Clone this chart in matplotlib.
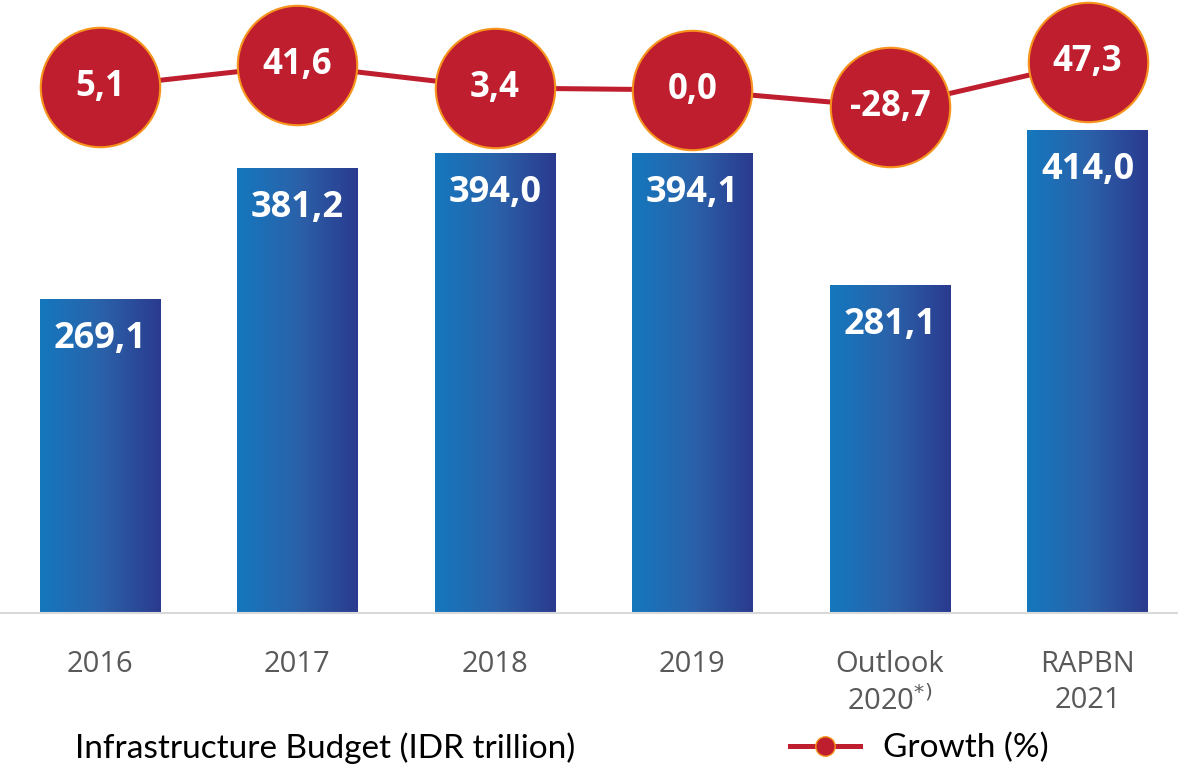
import numpy as np
import matplotlib.pyplot as plt
from matplotlib.colors import LinearSegmentedColormap
from matplotlib.lines import Line2D

# data
categories = ['2016', '2017', '2018', '2019', 'Outlook\n2020$^{*)}$', 'RAPBN\n2021']
budget = [269.1, 381.2, 394.0, 394.1, 281.1, 414.0]
growth = [5.1, 41.6, 3.4, 0.0, -28.7, 47.3]

def fmt(v):
    return f"{v:.1f}".replace('.', ',')

red = '#be1e2d'
orange = '#f7941d'
grad = LinearSegmentedColormap.from_list('bars', ['#1478be', '#2a62aa', '#2b3a8f'])

fig = plt.figure(figsize=(11.78, 7.7), dpi=100)
ax = fig.add_axes([0, 157 / 770, 1, 613 / 770])
x = np.arange(len(categories))

#bars with a left-to-right gradient
bars = ax.bar(x, budget, width=0.61, color='none', edgecolor='none', zorder=2)
gradient = np.linspace(0, 1, 256).reshape(1, -1)
for b in bars:
    x0, y0 = b.get_x(), b.get_y()
    w, h = b.get_width(), b.get_height()
    im = ax.imshow(gradient, cmap=grad, aspect='auto', extent=[x0, x0 + w, y0, y0 + h], zorder=2)
    im.set_clip_path(b)

for xi, v in zip(x, budget):
    ax.annotate(fmt(v), (xi, v), xytext=(0, -29), textcoords='offset points',
                ha='center', va='center', color='white', fontsize=26,
                fontweight='bold', family='Open Sans', zorder=3)

ax.set_xlim(-0.506, 5.458)
ax.set_ylim(0, 525.3)
ax.set_xticks(x)
ax.set_xticklabels(categories, fontsize=21, color='#595959', family='Open Sans', linespacing=1.3)
ax.tick_params(axis='x', length=0, pad=27)
ax.set_yticks([])
for s in ['top', 'left', 'right']:
    ax.spines[s].set_visible(False)
ax.spines['bottom'].set_color('#d9d9d9')
ax.spines['bottom'].set_linewidth(1.5)

#growth line on a second axis
ax2 = ax.twinx()
ax2.set_ylim(-871.7, 150)
ax2.set_axis_off()
ax2.plot(x, growth, color=red, lw=3.6, marker='o', markersize=86,
         markerfacecolor=red, markeredgecolor=orange, markeredgewidth=1.5, zorder=4)
for xi, g in zip(x, growth):
    ax2.text(xi, g, fmt(g), ha='center', va='center', color='white', fontsize=25,
             fontweight='bold', family='Open Sans', zorder=5)

fig.text(75 / 1178, 22 / 770, 'Infrastructure Budget (IDR trillion)', fontsize=24,
         family='Lato', va='center', ha='left')

handle = Line2D([], [], color=red, lw=3.6, marker='o', markersize=14,
                markerfacecolor=red, markeredgecolor=orange, markeredgewidth=1)
fig.legend([handle], ['Growth (%)'], loc='center left', bbox_to_anchor=(790 / 1178, 22 / 770),
           frameon=False, borderpad=0, borderaxespad=0, handlelength=2.1, handletextpad=0.7,
           prop={'family': 'Lato', 'size': 24})

plt.savefig('out.png', dpi=100)
